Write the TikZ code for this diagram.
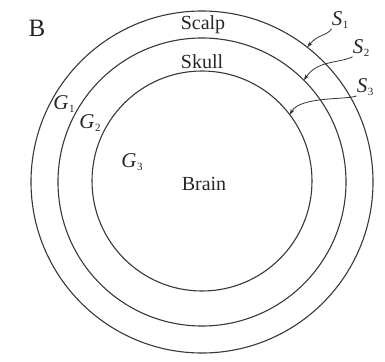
\documentclass[tikz,border=0pt]{standalone}
\usepackage{fontspec}
\setmainfont{Liberation Serif}
\usetikzlibrary{arrows.meta}
\newcommand{\lab}[2]{{\itshape #1}\kern0.5pt\raisebox{-0.35ex}{\fontsize{11}{12}\selectfont\upshape #2}}
\begin{document}
\begin{tikzpicture}[x=1pt,y=-1pt,
  ring/.style={circle,draw=black!78,line width=1.1pt,inner sep=0pt,outer sep=0pt,fill=none},
  lbl/.style={inner sep=0pt,text=black!85,font=\fontsize{20}{22}\selectfont},
  mlbl/.style={inner sep=0pt,text=black!85,font=\fontsize{21}{23}\selectfont},
  pointer/.style={draw=black!80,line width=0.8pt,-{Stealth[length=6pt,width=4pt]}}]
\useasboundingbox (0,0) rectangle (385,361);
\node[ring,minimum size=342pt] (outer) at (202,182) {};
\node[ring,minimum size=288pt] (middle) at (202,182) {};
\node[ring,minimum size=220pt] (inner) at (202,181) {};
\node[inner sep=0pt,text=black!85,font=\fontsize{25}{27}\selectfont] (B) at (37,28) {B};
\node[lbl] (scalp) at (203,25) {Scalp};
\node[lbl] (skull) at (202,62) {Skull};
\node[lbl] (brain) at (204,184) {Brain};
\node[mlbl] (g1) at (64,104) {\lab{G}{1}};
\node[mlbl] (g2) at (90,123) {\lab{G}{2}};
\node[mlbl] (g3) at (132,162) {\lab{G}{3}};
\node[mlbl] (s1) at (340,20) {\lab{S}{1}};
\node[mlbl] (s2) at (361,48) {\lab{S}{2}};
\node[mlbl] (s3) at (365,87) {\lab{S}{3}};
\draw[pointer] (s1.south west) .. controls (327,36) and (318,34) .. (outer.52.5);
\draw[pointer] (s2.south west) .. controls (336,64) and (318,60) .. (middle.45.5);
\draw[pointer] (s3.south west) .. controls (348,100) and (300,96) .. (inner.37);
\end{tikzpicture}
\end{document}
